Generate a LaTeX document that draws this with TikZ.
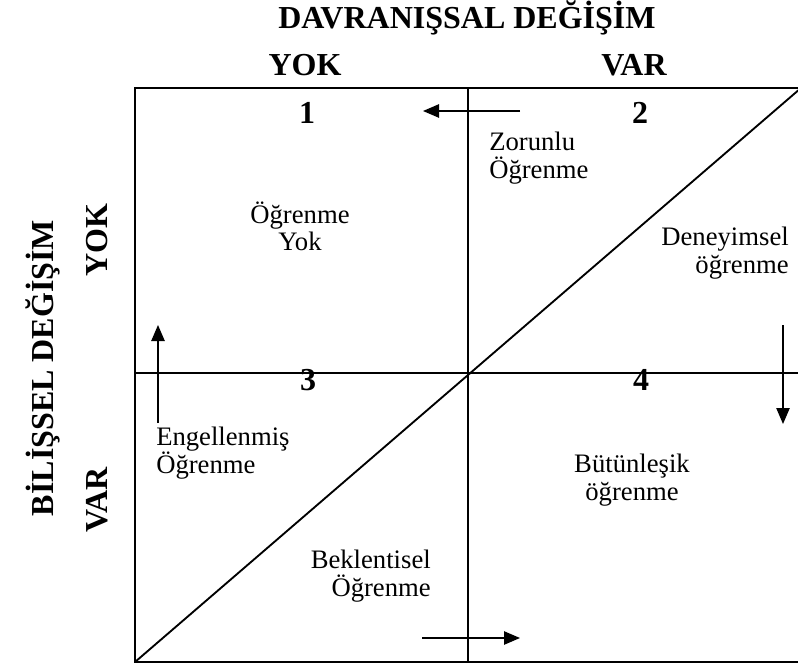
\documentclass[tikz,border=0pt]{standalone}
\usepackage{fontspec}
\setmainfont{Liberation Serif}
\usetikzlibrary{arrows.meta}
\begin{document}
\begin{tikzpicture}[x=0.75pt,y=-0.75pt,
  gridline/.style={line width=1.4pt},
  arr/.style={line width=1.1pt,-{Triangle[length=12pt,width=10pt]}},
  lbl/.style={font=\fontsize{20}{20.5}\selectfont, inner sep=0pt},
  hd/.style={font=\fontsize{24}{26}\selectfont\bfseries, inner sep=0pt}]
\useasboundingbox (0,0) rectangle (798,666);
\clip (0,0) rectangle (798,666);
% grid
\coordinate (TL) at (135,88);
\coordinate (BR) at (801,662);
\coordinate (BL) at (135,662);
\coordinate (TR) at (801,88);
\coordinate (T) at (468,88);
\coordinate (B) at (468,662);
\coordinate (L) at (135,373);
\coordinate (R) at (801,373);
\draw[gridline] (TL) rectangle (BR);
\draw[gridline] (T) -- (B);
\draw[gridline] (L) -- (R);
\draw[gridline] (BL) -- (TR);
% headings
\node[hd] (title) at (467,18) {DAVRANIŞSAL DEĞİŞİM};
\node[hd] (cyok) at (305,65) {YOK};
\node[hd] (cvar) at (634,65) {VAR};
\node[hd,rotate=90] (side) at (43,368) {BİLİŞSEL DEĞİŞİM};
\node[hd,rotate=90] (ryok) at (97,240) {YOK};
\node[hd,rotate=90] (rvar) at (97,500) {VAR};
% numbers
\node[hd] (n1) at (307,113) {1};
\node[hd] (n2) at (640,113) {2};
\node[hd] (n3) at (308,380) {3};
\node[hd] (n4) at (641,380) {4};
% cell texts
\node[lbl,align=left,anchor=west] (zor) at (489,158) {Zorunlu\\Öğrenme};
\node[lbl,align=center] (yok) at (300,226) {Öğrenme\\Yok};
\node[lbl,align=right,anchor=east] (den) at (789,253) {Deneyimsel\\öğrenme};
\node[lbl,align=left,anchor=west] (eng) at (156,453) {Engellenmiş\\Öğrenme};
\node[lbl,align=center] (but) at (632,480) {Bütünleşik\\öğrenme};
\node[lbl,align=right,anchor=east] (bek) at (431,576) {Beklentisel\\Öğrenme};
% arrows
\coordinate (a1s) at (520,111); \coordinate (a1e) at (423,111);
\coordinate (a2s) at (158,423); \coordinate (a2e) at (158,325);
\coordinate (a3s) at (783,325); \coordinate (a3e) at (783,424);
\coordinate (a4s) at (422,638); \coordinate (a4e) at (520,638);
\draw[arr] (a1s) -- (a1e);
\draw[arr] (a2s) -- (a2e);
\draw[arr] (a3s) -- (a3e);
\draw[arr] (a4s) -- (a4e);
\end{tikzpicture}
\end{document}
